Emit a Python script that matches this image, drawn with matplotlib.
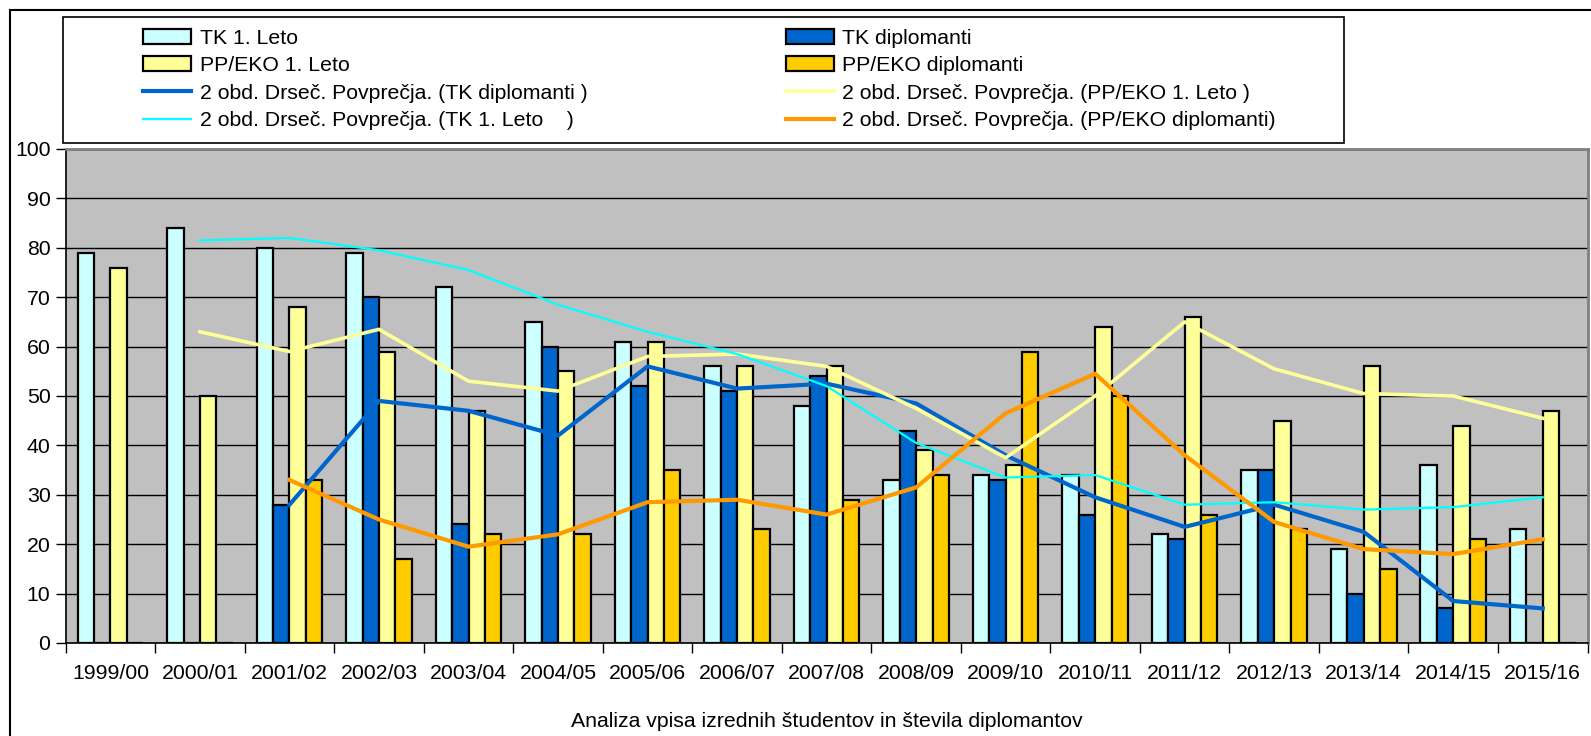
import numpy as np
import pandas as pd
import matplotlib
matplotlib.use("Agg")
import matplotlib.pyplot as plt
from matplotlib.patches import Rectangle
from matplotlib.ticker import FixedLocator, NullFormatter

plt.rcParams['font.family'] = ['Liberation Sans', 'DejaVu Sans']

categories = ["1999/00", "2000/01", "2001/02", "2002/03", "2003/04", "2004/05",
              "2005/06", "2006/07", "2007/08", "2008/09", "2009/10", "2010/11",
              "2011/12", "2012/13", "2013/14", "2014/15", "2015/16"]
nan = np.nan
tk_1_leto = [79, 84, 80, 79, 72, 65, 61, 56, 48, 33, 34, 34, 22, 35, 19, 36, 23]
tk_diplomanti = [nan, nan, 28, 70, 24, 60, 52, 51, 54, 43, 33, 26, 21, 35, 10, 7, nan]
pp_1_leto = [76, 50, 68, 59, 47, 55, 61, 56, 56, 39, 36, 64, 66, 45, 56, 44, 47]
pp_diplomanti = [nan, nan, 33, 17, 22, 22, 35, 23, 29, 34, 59, 50, 26, 23, 15, 21, nan]

labels_bars = ["TK 1. Leto", "TK diplomanti", "PP/EKO 1. Leto", "PP/EKO diplomanti"]
colors_bars = ["#CCFFFF", "#0066CC", "#FFFF99", "#FFCC00"]


def moving_avg(vals):
    s = pd.Series(vals, dtype=float).rolling(2, min_periods=1).mean()
    s.iloc[0] = np.nan
    return s.values


W, H = 1591, 736
fig = plt.figure(figsize=(W / 100, H / 100), dpi=100)
fig.patch.set_facecolor("white")

left, right, top, bottom = 65.7, 1587.5, 149, 643
ax = fig.add_axes([left / W, 1 - bottom / H, (right - left) / W, (bottom - top) / H])
ax.set_facecolor("#C0C0C0")

n = len(categories)
x = np.arange(n)
bw = 16.4 / 89.5
series = [tk_1_leto, tk_diplomanti, pp_1_leto, pp_diplomanti]
bar_handles = []
for i, (vals, col, lab) in enumerate(zip(series, colors_bars, labels_bars)):
    offs = (i - 1.5) * bw
    h = ax.bar(x + offs, np.nan_to_num(np.array(vals, dtype=float)), width=bw,
               color=col, edgecolor="black", linewidth=1.6, label=lab, zorder=2)
    bar_handles.append(h)

ma_tkd = moving_avg(tk_diplomanti)
ma_pp1 = moving_avg(pp_1_leto)
ma_tk1 = moving_avg(tk_1_leto)
ma_ppd = moving_avg(pp_diplomanti)

l_tkd, = ax.plot(x, ma_tkd, color="#0066CC", lw=3.0, zorder=4,
                 label="2 obd. Drseč. Povprečja. (TK diplomanti )")
l_pp1, = ax.plot(x, ma_pp1, color="#FFFF99", lw=2.6, zorder=4,
                 label="2 obd. Drseč. Povprečja. (PP/EKO 1. Leto )")
l_tk1, = ax.plot(x, ma_tk1, color="#00FFFF", lw=1.6, zorder=4,
                 label="2 obd. Drseč. Povprečja. (TK 1. Leto    )")
l_ppd, = ax.plot(x, ma_ppd, color="#FF9900", lw=3.0, zorder=4,
                 label="2 obd. Drseč. Povprečja. (PP/EKO diplomanti)")

ax.set_xlim(-0.5, n - 0.5)
ax.set_ylim(0, 100)
ax.set_yticks(np.arange(0, 101, 10))
ax.yaxis.grid(True, color="black", lw=1.0, zorder=0)
ax.set_axisbelow(True)

ax.set_xticks(x)
ax.set_xticklabels(categories, fontsize=15.3)
ax.tick_params(axis="x", which="major", length=0, pad=15)
ax.xaxis.set_minor_locator(FixedLocator(np.arange(-0.5, n, 1.0)))
ax.xaxis.set_minor_formatter(NullFormatter())
ax.tick_params(axis="x", which="minor", length=7, width=1.0, color="black", direction="out")
ax.tick_params(axis="y", length=7, width=1.0, labelsize=15.3, pad=4, direction="out")

for s in ["left", "bottom"]:
    ax.spines[s].set_color("black")
    ax.spines[s].set_linewidth(1.2)
for s in ["top", "right"]:
    ax.spines[s].set_color("#808080")
    ax.spines[s].set_linewidth(2.0)

ax.set_xlabel("Analiza vpisa izrednih študentov in števila diplomantov", fontsize=15.3, labelpad=21)

# legend
handles = [bar_handles[0], bar_handles[2], l_tkd, l_tk1,
           bar_handles[1], bar_handles[3], l_pp1, l_ppd]
lab_list = [h.get_label() for h in handles]
leg_x0, leg_x1 = 143 / W, 1276 / W
leg_y0, leg_y1 = 1 - 140 / H, 1 - 19 / H
leg = fig.legend(handles, lab_list, ncol=2, mode="expand",
                 bbox_to_anchor=(leg_x0, leg_y0, leg_x1 - leg_x0, leg_y1 - leg_y0),
                 loc="center", frameon=False, fontsize=15.3, borderpad=0,
                 borderaxespad=0, handlelength=2.26, handletextpad=0.4,
                 labelspacing=0.4, columnspacing=1.0)

fig.add_artist(Rectangle((63 / W, 1 - 143.3 / H), (1344 - 63) / W, (143.3 - 17.3) / H,
                         transform=fig.transFigure, fill=False, edgecolor="black", lw=1.2))
fig.add_artist(Rectangle((9.7 / W, -0.1), 1.2, 1 - 9.7 / H + 0.1,
                         transform=fig.transFigure, fill=False, edgecolor="black",
                         lw=1.5, clip_on=False))

fig.savefig("out.png", dpi=100, facecolor="white")
